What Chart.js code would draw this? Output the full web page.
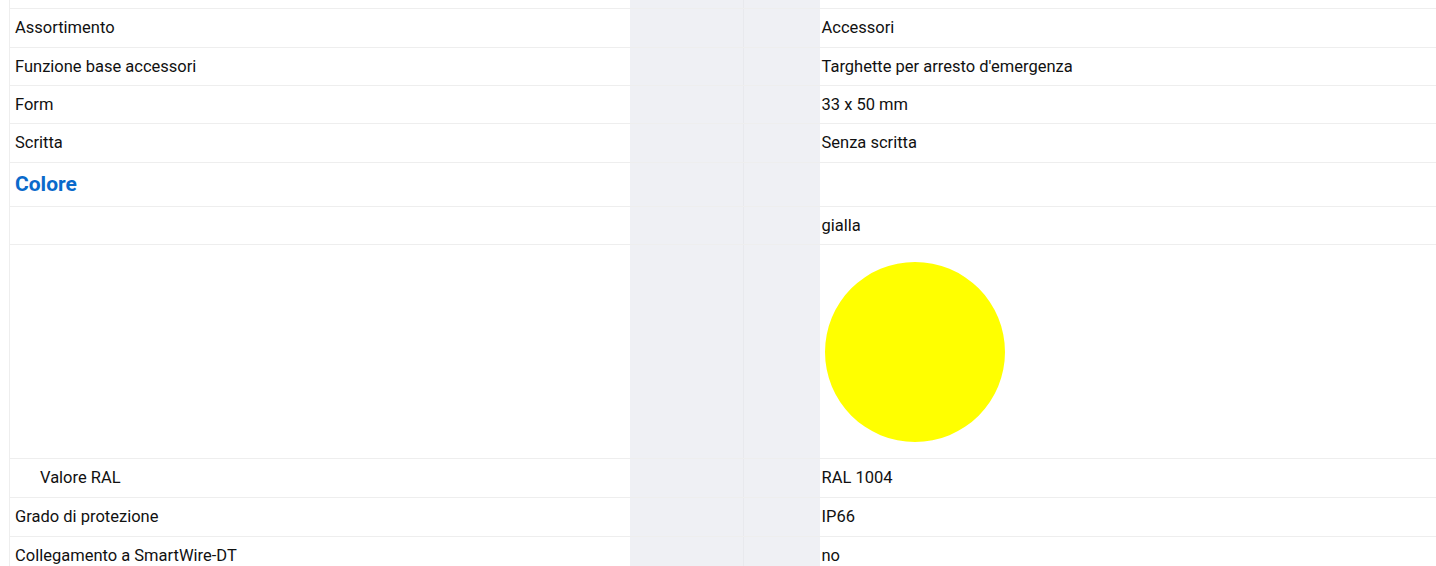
<!DOCTYPE html>
<html>
<head>
<meta charset="utf-8">
<script src="https://cdn.jsdelivr.net/npm/chart.js@4"></script>
<style>
  html, body { margin: 0; padding: 0; background: #fff; overflow: hidden; }
  body { width: 1436px; height: 566px; position: relative; font-family: Roboto, "Liberation Sans", sans-serif; color: #111; }
  #sheet { position: absolute; left: 9px; top: -36px; width: 1440px; border-collapse: collapse; table-layout: fixed; }
  #sheet td { border-bottom: 1px solid #eeeeee; padding: 0 0 0 5px; font-size: 16.5px; white-space: nowrap; }
  #sheet td.lbl { border-left: 1px solid #eeeeee; }
  #sheet td.g1 { background: #eff0f4; border-right: 1px solid #e8e9ed; padding: 0; }
  #sheet td.g2 { background: #eff0f4; padding: 0; }
  #sheet td.val { padding-left: 2px; }
  #sheet tr.head td { font-weight: bold; font-size: 21px; color: #0a6acb; }
  #sheet tr.top td.lbl { vertical-align: bottom; padding-bottom: 7px; }
  #sheet td.indent { padding-left: 30px; }
</style>
</head>
<body>
<table id="sheet"><colgroup>
  <col style="width:620px"><col style="width:114px"><col style="width:76px"><col>
</colgroup><tbody id="rows"></tbody></table>

<script>
// rows of the product sheet
const rowLabels = ["Design", "Assortimento", "Funzione base accessori", "Form", "Scritta", "Colore", "", "", "Valore RAL", "Grado di protezione", "Collegamento a SmartWire-DT"];
const rowValues = ["", "Accessori", "Targhette per arresto d'emergenza", "33 x 50 mm", "Senza scritta", "", "gialla", "", "RAL 1004", "IP66", "no"];
const rowHeights = [44, 39, 38, 38, 39, 44, 38, 214, 39, 39, 38];
const headRows = [0, 5];

// colour swatch drawn as a one-slice pie
const swatchLabels = ["gialla"];
const swatchValues = [1];
const swatchColors = ["#ffff00"];

const tbody = document.getElementById("rows");
rowLabels.forEach((label, i) => {
  const tr = document.createElement("tr");
  if (headRows.includes(i)) tr.className = "head";
  if (i === 0) tr.className += " top";
  tr.style.height = rowHeights[i] + "px";
  let valCell = rowValues[i];
  if (i === 7) valCell = '<div style="position:relative;width:180px;height:180px;margin-left:3px;margin-top:2px"><canvas id="swatch" width="180" height="180"></canvas></div>';
  tr.innerHTML = `<td class="lbl${label === "Valore RAL" ? " indent" : ""}">${label}</td><td class="g1"></td><td class="g2"></td><td class="val">${valCell}</td>`;
  tbody.appendChild(tr);
});

new Chart(document.getElementById("swatch"), {
  type: "pie",
  data: {
    labels: swatchLabels,
    datasets: [{ data: swatchValues, backgroundColor: swatchColors, borderWidth: 0, hoverOffset: 0 }],
  },
  options: {
    responsive: false,
    animation: false,
    events: [],
    layout: { padding: 0 },
    plugins: { legend: { display: false }, tooltip: { enabled: false } },
  },
});
</script>
</body>
</html>
